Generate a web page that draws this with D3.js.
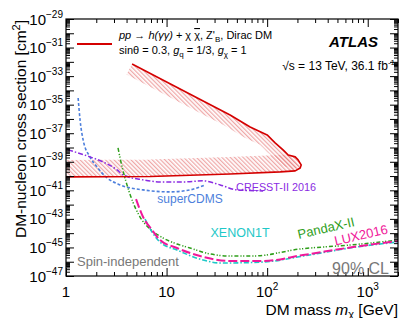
<!DOCTYPE html>
<html>
<head>
<meta charset="utf-8">
<script src="https://cdn.jsdelivr.net/npm/d3@7"></script>
<style>
  body { margin: 0; background: #fff; }
  svg text { font-family: "Liberation Sans", Arial, Helvetica, sans-serif; }
</style>
</head>
<body>
<svg id="chart" width="407" height="318"></svg>
<script>
// ATLAS observed exclusion contour (mass in GeV, cross section in cm2), top edge -> tip -> bottom edge
const atlasMass = [4.54, 23.1, 42.8, 67.7, 100, 112, 120, 144, 162, 190, 203, 218, 213, 190, 135, 42.8, 6.85, 1];
const atlasXsec = [7.1e-33, 1.8e-35, 1.9e-36, 2.75e-37, 7.6e-38, 3.4e-38, 2.1e-38, 6.8e-39, 3.0e-39, 2.2e-39,
                   1.35e-39, 6.0e-40, 3.7e-40, 2.3e-40, 1.95e-40, 1.4e-40, 9.3e-41, 8.7e-41];
const atlasTip = 11;

const cdmsMass = [1.32, 1.38, 1.48, 1.73, 2.03, 2.56, 3.45, 5.84, 10.8, 17.1, 24.2];
const cdmsXsec = [2.95e-35, 8.5e-37, 3.4e-38, 2.2e-39, 4.4e-40, 7.4e-41, 2.4e-41, 1.07e-41, 7.8e-42, 1.07e-41, 2.4e-41];

const cresstMass = [1.05, 1.73, 2.33, 3.22, 3.69, 5.84, 8.61, 15.3, 23.1, 34.1, 50.3, 91.2];
const cresstXsec = [6.8e-39, 2.2e-39, 9.8e-40, 2.7e-40, 1.2e-40, 5.4e-41, 3.9e-41, 3.9e-41, 4.6e-41, 2.4e-41, 1.07e-41, 9.1e-42];

const pandaMass = [3.29, 3.61, 4.04, 4.54, 5.45, 6.85, 9.23, 12.7, 17.1, 27.1, 42.8, 72.6, 213, 670, 2000];
const pandaXsec = [9.3e-39, 4.4e-40, 2.4e-41, 2.1e-42, 1.35e-43, 1.95e-44, 4.6e-45, 1.74e-45, 9.1e-46, 3.5e-46,
                   2.5e-46, 2.5e-46, 7.8e-46, 1.48e-45, 3.3e-45];

const luxMass = [4.97, 5.84, 7.17, 8.61, 12.7, 21.5, 42.8, 91.2, 228, 717, 2000];
const luxXsec = [2.45e-42, 1.35e-43, 1.66e-44, 3.3e-45, 9.1e-46, 2.5e-46, 1.12e-46, 1.12e-46, 2.95e-46, 1.07e-45, 2.8e-45];

const xenonMass = [6.11, 7.17, 8.61, 12.7, 23.1, 34.1, 91.2, 228, 717, 2000];
const xenonXsec = [9.8e-44, 1.2e-44, 2.4e-45, 6.6e-46, 1.32e-46, 8.1e-47, 9.5e-47, 2.5e-46, 1.0e-45, 2.4e-45];

const xMajor = [1, 10, 100, 1000];
const xLabels = [["1", ""], ["10", ""], ["10", "2"], ["10", "3"]];
const yLabelExp = [-29, -31, -33, -35, -37, -39, -41, -43, -45, -47];

const frame = {left: 66, right: 398, top: 19, bottom: 276};
const svg = d3.select("#chart");

const x = d3.scaleLog().domain([1, 2000]).range([frame.left, frame.right]);
const y = d3.scaleLog().domain([1e-47, 1e-29]).range([frame.bottom, frame.top]);

// minor ticks 2..9 per decade
const xMinor = [];
for (let e = 0; e <= 3; e++) for (let k = 2; k <= 9; k++) if (k * 10 ** e <= 2000) xMinor.push(k * 10 ** e);
const yMajor = [], yMinor = [];
for (let e = -47; e <= -29; e++) {
    yMajor.push(Number("1e" + e));
    if (e < -29) for (let k = 2; k <= 9; k++) yMinor.push(Number(k + "e" + e));
}

const defs = svg.append("defs");
defs.append("clipPath").attr("id", "plotClip")
    .append("rect").attr("x", frame.left).attr("y", frame.top)
    .attr("width", frame.right - frame.left).attr("height", frame.bottom - frame.top);

const hatch = defs.append("pattern").attr("id", "hatch")
    .attr("patternUnits", "userSpaceOnUse").attr("width", 3).attr("height", 3)
    .attr("patternTransform", "rotate(-45)");
hatch.append("line").attr("x1", 0.7).attr("y1", 0).attr("x2", 0.7).attr("y2", 3)
    .attr("stroke", "#e77878").attr("stroke-width", 0.8);

const pts = (ms, xs) => ms.map((m, i) => [x(m), y(xs[i])]);
const atlasPts = pts(atlasMass, atlasXsec);

// interior of the contour, closed along the left frame edge
const inside = atlasPts.concat([[x(1), y(atlasXsec[0])]]);
defs.append("clipPath").attr("id", "atlasInside")
    .append("path").attr("d", d3.line()(inside) + "Z");

const plot = svg.append("g").attr("clip-path", "url(#plotClip)");

// hatched band along the inside of the contour
const band = plot.append("g").attr("clip-path", "url(#atlasInside)");
band.append("path").attr("d", d3.line()(atlasPts.slice(0, atlasTip + 1)))
    .attr("fill", "none").attr("stroke", "url(#hatch)").attr("stroke-width", 24);
band.append("path").attr("d", d3.line()(atlasPts.slice(atlasTip)))
    .attr("fill", "none").attr("stroke", "url(#hatch)").attr("stroke-width", 34);

const smooth = d3.line().curve(d3.curveMonotoneX);
const curves = [
    {m: cdmsMass, s: cdmsXsec, color: "#4d7fdc", dash: "3,2", w: 1.6},
    {m: cresstMass, s: cresstXsec, color: "#8a2be2", dash: "5,2,1.5,2", w: 1.5},
    {m: pandaMass, s: pandaXsec, color: "#2e9e1a", dash: "4,2,1.2,1.5,1.2,2", w: 1.5},
    {m: xenonMass, s: xenonXsec, color: "#1ec8c8", dash: "5,2,1.5,2", w: 1.6},
    {m: luxMass, s: luxXsec, color: "#f0189a", dash: "9,3", w: 2}
];
curves.forEach(c => {
    plot.append("path").attr("d", smooth(pts(c.m, c.s)))
        .attr("fill", "none").attr("stroke", c.color)
        .attr("stroke-width", c.w).attr("stroke-dasharray", c.dash);
});

plot.append("path").attr("d", d3.line()(atlasPts))
    .attr("fill", "none").attr("stroke", "#d40000").attr("stroke-width", 1.6)
    .attr("stroke-linejoin", "round");

// axes: ticks inside the frame on all four sides
function ticks(axis, pos) {
    const g = svg.append("g").attr("transform", pos).call(axis);
    g.select(".domain").remove();
    g.selectAll("line").attr("stroke", "#000");
    g.selectAll("text").remove();
}
ticks(d3.axisBottom(x).tickValues(xMajor).tickSize(-8).tickFormat(""), `translate(0,${frame.bottom})`);
ticks(d3.axisBottom(x).tickValues(xMinor).tickSize(-4).tickFormat(""), `translate(0,${frame.bottom})`);
ticks(d3.axisTop(x).tickValues(xMajor).tickSize(-8).tickFormat(""), `translate(0,${frame.top})`);
ticks(d3.axisTop(x).tickValues(xMinor).tickSize(-4).tickFormat(""), `translate(0,${frame.top})`);
ticks(d3.axisLeft(y).tickValues(yMajor).tickSize(-8).tickFormat(""), `translate(${frame.left},0)`);
ticks(d3.axisLeft(y).tickValues(yMinor).tickSize(-4).tickFormat(""), `translate(${frame.left},0)`);
ticks(d3.axisRight(y).tickValues(yMajor).tickSize(-8).tickFormat(""), `translate(${frame.right},0)`);
ticks(d3.axisRight(y).tickValues(yMinor).tickSize(-4).tickFormat(""), `translate(${frame.right},0)`);

svg.append("rect").attr("x", frame.left).attr("y", frame.top)
    .attr("width", frame.right - frame.left).attr("height", frame.bottom - frame.top)
    .attr("fill", "none").attr("stroke", "#000").attr("stroke-width", 1.2);

// tick labels
xMajor.forEach((v, i) => {
    const t = svg.append("text").attr("x", x(v)).attr("y", 296.5)
        .attr("text-anchor", "middle").attr("font-size", 15);
    t.append("tspan").text(xLabels[i][0]);
    if (xLabels[i][1]) t.append("tspan").attr("dy", -7).attr("font-size", 10).text(xLabels[i][1]);
});
yLabelExp.forEach(e => {
    const t = svg.append("text").attr("x", 63).attr("y", y(Number("1e" + e)) + 5.5)
        .attr("text-anchor", "end").attr("font-size", 15);
    t.append("tspan").text("10");
    t.append("tspan").attr("dy", -7).attr("font-size", 10).text("\u2212" + (-e));
});

// axis titles
const xt = svg.append("text").attr("x", 398).attr("y", 314.5).attr("text-anchor", "end").attr("font-size", 15.5);
xt.append("tspan").text("DM mass ");
xt.append("tspan").attr("font-style", "italic").text("m");
xt.append("tspan").attr("dy", 3).attr("font-size", 11).text("\u03c7");
xt.append("tspan").attr("dy", -3).text(" [GeV]");

const yt = svg.append("text").attr("transform", "translate(26,20) rotate(-90)")
    .attr("text-anchor", "end").attr("font-size", 15.5);
yt.append("tspan").text("DM-nucleon cross section [cm");
yt.append("tspan").attr("dy", -6).attr("font-size", 11).text("2");
yt.append("tspan").attr("dy", 6).text("]");

// legend
svg.append("line").attr("x1", 77).attr("x2", 112).attr("y1", 44).attr("y2", 44)
    .attr("stroke", "#d40000").attr("stroke-width", 2);
const l1 = svg.append("text").attr("x", 119).attr("y", 39).attr("font-size", 11);
l1.append("tspan").attr("font-style", "italic").text("pp");
l1.append("tspan").text(" \u2192 ");
l1.append("tspan").attr("font-style", "italic").text("h(\u03b3\u03b3)");
l1.append("tspan").text(" + \u03c7 ");
l1.append("tspan").attr("text-decoration", "overline").text("\u03c7");
l1.append("tspan").text(", Z'");
l1.append("tspan").attr("dy", 3).attr("font-size", 8).text("B");
l1.append("tspan").attr("dy", -3).text(", Dirac DM");

const l2 = svg.append("text").attr("x", 119).attr("y", 54).attr("font-size", 11);
l2.append("tspan").text("sin\u03b8 = 0.3, ");
l2.append("tspan").attr("font-style", "italic").text("g");
l2.append("tspan").attr("dy", 3).attr("font-size", 8).text("q");
l2.append("tspan").attr("dy", -3).text(" = 1/3, ");
l2.append("tspan").attr("font-style", "italic").text("g");
l2.append("tspan").attr("dy", 3).attr("font-size", 8).text("\u03c7");
l2.append("tspan").attr("dy", -3).text(" = 1");

svg.append("text").attr("x", 378).attr("y", 47).attr("text-anchor", "end")
    .attr("font-size", 15).attr("font-weight", "bold").attr("font-style", "italic").text("ATLAS");
const en = svg.append("text").attr("x", 395).attr("y", 70).attr("text-anchor", "end").attr("font-size", 12);
en.append("tspan").text("\u221as = 13 TeV, 36.1 fb");
en.append("tspan").attr("dy", -5).attr("font-size", 8).text("-1");

// curve labels
const label = (txt, cx, cy, color, size, angle) => svg.append("text")
    .attr("transform", `translate(${cx},${cy}) rotate(${angle || 0})`)
    .attr("text-anchor", "middle").attr("dy", "0.35em")
    .attr("font-size", size).attr("fill", color).text(txt);
label("CRESST-II 2016", 276, 187, "#8a2be2", 10.8);
label("superCDMS", 190, 199, "#4d7fdc", 12);
label("XENON1T", 240, 233, "#1ec8c8", 12.5);
label("PandaX-II", 326, 228, "#2e9e1a", 13, -13);
label("LUX2016", 361, 235, "#f0189a", 13, -13);

svg.append("text").attr("x", 77).attr("y", 266).attr("font-size", 13).attr("fill", "#777").text("Spin-independent");
svg.append("text").attr("x", 389).attr("y", 274).attr("text-anchor", "end").attr("font-size", 16)
    .attr("fill", "#777").text("90% CL");
</script>
</body>
</html>
